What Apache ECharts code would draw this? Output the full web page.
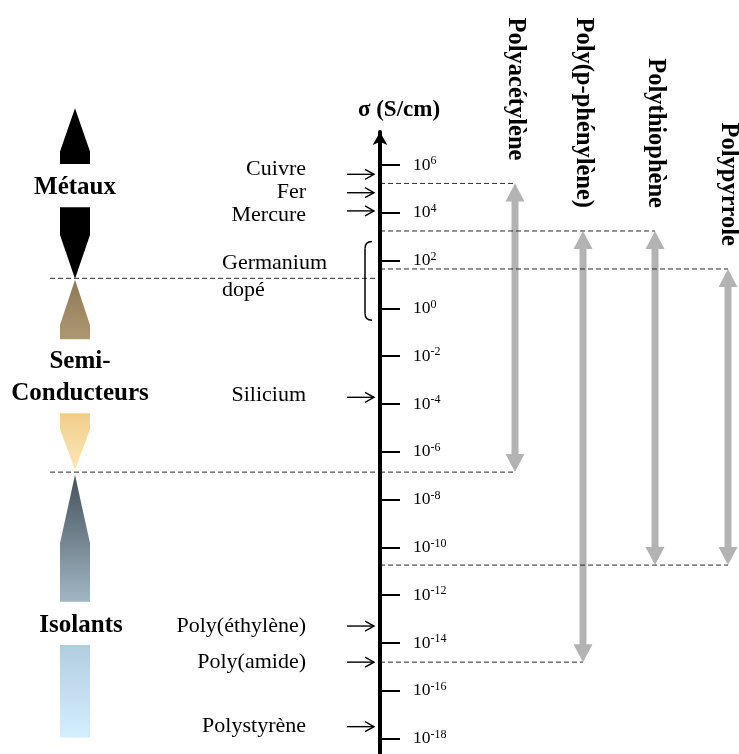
<!DOCTYPE html>
<html><head><meta charset="utf-8">
<script src="https://cdn.jsdelivr.net/npm/echarts@6/dist/echarts.min.js"></script>
<style>html,body{margin:0;padding:0;background:#fff}#c{width:739px;height:754px}</style>
</head><body><div id="c"></div>
<script>
// ---------- data : log10 of conductivity sigma (S/cm) ----------
const tickExponents = [6, 4, 2, 0, -2, -4, -6, -8, -10, -12, -14, -16, -18];
const materialNames = ['Cuivre', 'Fer', 'Mercure', 'Silicium', 'Poly(éthylène)', 'Poly(amide)', 'Polystyrène'];
const materialLogSigma = [5.61, 4.84, 4.08, -3.72, -13.29, -14.8, -17.5];
const polymerNames = ['Polyacétylène', 'Poly(p-phénylène)', 'Polythiophène', 'Polypyrrole'];
const polymerLogMax = [5.23, 3.24, 3.24, 1.65];
const polymerLogMin = [-6.85, -14.8, -10.74, -10.74];
const germaniumLabel = 'Germanium\ndopé';
const germaniumRange = [-0.5, 2.8];
const classNames = ['Métaux', 'Semi-\nConducteurs', 'Isolants'];
const classBoundaries = [1.26, -6.85];
const axisTitle = 'σ (S/cm)';

// ---------- layout / style (not data) ----------
const SERIF = '"Liberation Serif", "Times New Roman", serif';
const L = {
  axisX: 380,
  pointerX: [347, 374],
  labelRight: 306,
  labelNudge: [-5, -1, 4, -2, 0, 0, 0],
  polymerX: [515, 583, 655, 728],
  dashLeft: 50,
  colX: [60, 90],
  bracketX: [365, 372],
  germLabelX: 222,
  bands: [
    { pieces: [
        { kind: 'up', a: 8.37, b: 6.56, c: 6.04, colors: ['#000000', '#000000'] },
        { kind: 'down', a: 4.23, b: 3.07, c: 1.24, colors: ['#000000', '#000000'] }],
      label: { x: 75, y: 5.07 } },
    { pieces: [
        { kind: 'up', a: 1.2, b: -0.69, c: -1.29, colors: ['#8d7956', '#ae9871'] },
        { kind: 'down', a: -4.39, b: -5.06, c: -6.76, colors: ['#f1cd8c', '#fee7b5'] }],
      label: { x: 80, y: -2.89 } },
    { pieces: [
        { kind: 'up', a: -6.97, b: -9.83, c: -12.27, colors: ['#44515a', '#a1b6c4'] },
        { kind: 'rect', a: -14.08, c: -17.95, colors: ['#b3cde0', '#d3eeff'] }],
      label: { x: 81, y: -13.25 } }
  ]
};

function grad(c) {
  return { type: 'linear', x: 0, y: 0, x2: 0, y2: 1,
    colorStops: [{ offset: 0, color: c[0] }, { offset: 1, color: c[1] }] };
}

function renderBand(params, api) {
  const band = L.bands[params.dataIndex];
  const x1 = L.colX[0], x2 = L.colX[1], cx = (x1 + x2) / 2;
  const Y = v => api.coord([L.axisX, v])[1];
  const children = band.pieces.map(p => {
    let pts;
    if (p.kind === 'up') {
      pts = [[cx, Y(p.a)], [x2, Y(p.b)], [x2, Y(p.c)], [x1, Y(p.c)], [x1, Y(p.b)]];
    } else if (p.kind === 'down') {
      pts = [[x1, Y(p.a)], [x2, Y(p.a)], [x2, Y(p.b)], [cx, Y(p.c)], [x1, Y(p.b)]];
    } else {
      pts = [[x1, Y(p.a)], [x2, Y(p.a)], [x2, Y(p.c)], [x1, Y(p.c)]];
    }
    return { type: 'polygon', shape: { points: pts }, style: { fill: grad(p.colors) } };
  });
  children.push({
    type: 'text', x: band.label.x, y: Y(band.label.y),
    style: { text: classNames[params.dataIndex], fontFamily: SERIF, fontSize: 25, fontWeight: 'bold',
      fill: '#000', align: 'center', verticalAlign: 'middle', lineHeight: 31.6 }
  });
  return { type: 'group', children };
}

// dashed reference lines built from the data arrays (merged when they share a level)
const dashSegments = [];
classBoundaries.forEach(b => dashSegments.push([L.dashLeft, b, L.axisX]));
const polyLevels = {};
polymerNames.forEach((n, i) => {
  [polymerLogMax[i], polymerLogMin[i]].forEach(v => {
    const k = v.toFixed(3);
    polyLevels[k] = Math.max(polyLevels[k] || 0, L.polymerX[i]);
  });
});
Object.keys(polyLevels).forEach(k => dashSegments.push([L.axisX, parseFloat(k), polyLevels[k]]));

function renderDash(params, api) {
  const a = api.coord([api.value(0), api.value(1)]);
  const b = api.coord([api.value(2), api.value(1)]);
  return { type: 'line', shape: { x1: a[0], y1: a[1], x2: b[0], y2: b[1] },
    style: { stroke: '#2a2a2a', lineWidth: 1, lineDash: [5, 3] } };
}

function renderPolymer(params, api) {
  const i = params.dataIndex;
  const top = api.coord([L.polymerX[i], polymerLogMax[i]]);
  const bot = api.coord([L.polymerX[i], polymerLogMin[i]]);
  const cx = top[0], yT = top[1], yB = bot[1];
  const hw = 9.5, hl = 18, sw = 3.5;
  return { type: 'group', children: [
    { type: 'polygon', shape: { points: [[cx, yT], [cx + hw, yT + hl], [cx + sw, yT + hl], [cx + sw, yB - hl],
        [cx + hw, yB - hl], [cx, yB], [cx - hw, yB - hl], [cx - sw, yB - hl], [cx - sw, yT + hl], [cx - hw, yT + hl]] },
      style: { fill: '#b3b3b3' } },
    { type: 'text', x: cx, y: yT - 23, rotation: -Math.PI / 2,
      style: { text: polymerNames[i], fontFamily: SERIF, fontSize: 24.5, fontWeight: 'bold', fill: '#000',
        align: 'right', verticalAlign: 'middle' } }
  ] };
}

function renderMaterial(params, api) {
  const i = params.dataIndex;
  const p1 = api.coord([L.pointerX[0], materialLogSigma[i]]);
  const p2 = api.coord([L.pointerX[1], materialLogSigma[i]]);
  const y = p1[1];
  return { type: 'group', children: [
    { type: 'line', shape: { x1: p1[0], y1: y, x2: p2[0], y2: y }, style: { stroke: '#000', lineWidth: 1.4 } },
    { type: 'polyline', shape: { points: [[p2[0] - 9, y - 5], [p2[0], y], [p2[0] - 9, y + 5]] },
      style: { stroke: '#000', lineWidth: 1.4, fill: null } },
    { type: 'text', x: api.coord([L.labelRight, 0])[0], y: y + L.labelNudge[i],
      style: { text: materialNames[i], fontFamily: SERIF, fontSize: 22, fill: '#000',
        align: 'right', verticalAlign: 'middle' } }
  ] };
}

function renderGermanium(params, api) {
  const t = api.coord([L.bracketX[1], germaniumRange[1]])[1];
  const b = api.coord([L.bracketX[1], germaniumRange[0]])[1];
  const x0 = L.bracketX[0], x1 = L.bracketX[1];
  const st = { stroke: '#000', lineWidth: 1.5, fill: null };
  return { type: 'group', children: [
    { type: 'bezierCurve', shape: { x1: x1, y1: t, x2: x0, y2: t + 7, cpx1: x0, cpy1: t }, style: st },
    { type: 'line', shape: { x1: x0, y1: t + 7, x2: x0, y2: b - 7 }, style: st },
    { type: 'bezierCurve', shape: { x1: x0, y1: b - 7, x2: x1, y2: b, cpx1: x0, cpy1: b }, style: st },
    { type: 'text', x: L.germLabelX, y: (t + b) / 2 - 4,
      style: { text: germaniumLabel, fontFamily: SERIF, fontSize: 22, fill: '#000', lineHeight: 27,
        align: 'left', verticalAlign: 'middle' } }
  ] };
}

const chart = echarts.init(document.getElementById('c'), null, { renderer: 'canvas' });
chart.setOption({
  animation: false,
  backgroundColor: '#ffffff',
  grid: { left: 380, right: 0, top: 132, bottom: 0, containLabel: false, outerBoundsMode: 'none' },
  xAxis: { type: 'value', min: 380, max: 739, show: false },
  yAxis: {
    type: 'value', min: -18.644, max: 7.381, position: 'left', z: 10,
    name: axisTitle, nameLocation: 'end', nameGap: 10,
    nameTextStyle: { fontFamily: SERIF, fontSize: 23, fontWeight: 'bold', color: '#000', padding: [0, 0, 0, 38] },
    axisLine: { show: true, lineStyle: { color: '#000', width: 4 }, symbol: ['none', 'arrow'], symbolSize: [11, 13] },
    axisTick: { show: true, inside: true, length: 20, customValues: tickExponents, lineStyle: { color: '#000', width: 2 } },
    axisLabel: {
      show: true, inside: true, margin: 33, customValues: tickExponents,
      formatter: v => '{b|10}{s|' + v + '}',
      rich: {
        b: { fontFamily: SERIF, fontSize: 17.5, lineHeight: 20, color: '#000' },
        s: { fontFamily: SERIF, fontSize: 12, lineHeight: 12, verticalAlign: 'top', color: '#000' }
      }
    },
    splitLine: { show: false }
  },
  series: [
    { type: 'custom', name: 'classes', clip: false, z: 1, renderItem: renderBand,
      data: classNames.map((n, i) => [L.axisX, classBoundaries[Math.min(i, 1)]]) },
    { type: 'custom', name: 'polymères', clip: false, z: 2, renderItem: renderPolymer,
      data: polymerNames.map((n, i) => [L.polymerX[i], polymerLogMax[i]]) },
    { type: 'custom', name: 'limites', clip: false, z: 3, renderItem: renderDash,
      encode: { x: [0, 2], y: 1 }, data: dashSegments },
    { type: 'custom', name: 'matériaux', clip: false, z: 4, renderItem: renderMaterial,
      data: materialNames.map((n, i) => [L.pointerX[1], materialLogSigma[i]]) },
    { type: 'custom', name: 'germanium', clip: false, z: 4, renderItem: renderGermanium,
      data: [[L.bracketX[1], germaniumRange[1]]] }
  ]
});
</script></body></html>
